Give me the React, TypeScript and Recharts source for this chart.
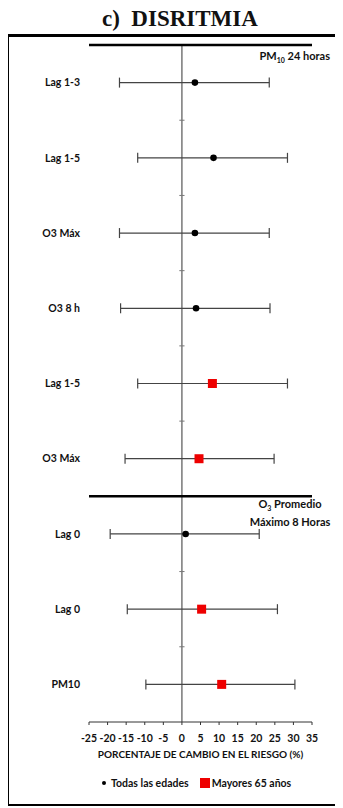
import React from "react";
import { ScatterChart, Scatter, XAxis, YAxis, ErrorBar, ReferenceLine } from "recharts";

const rowLabels = ["Lag 1-3", "Lag 1-5", "O3 Máx", "O3 8 h", "Lag 1-5", "O3 Máx", "Lag 0", "Lag 0", "PM10"];
const rowGroups = ["todas", "todas", "todas", "todas", "mayores", "mayores", "todas", "mayores", "mayores"];
const estimates = [3.5, 8.5, 3.5, 3.8, 8.2, 4.6, 1.0, 5.3, 10.7];
const lowerCI = [-16.8, -11.9, -16.8, -16.5, -11.9, -15.3, -19.3, -14.7, -9.7];
const upperCI = [23.5, 28.4, 23.5, 23.7, 28.4, 24.8, 20.8, 25.7, 30.4];
const xTicks = [-25, -20, -15, -10, -5, 0, 5, 10, 15, 20, 25, 30, 35];
const rowTicks = [1, 2, 3, 4, 5, 6, 7, 8, 9];
const midTicks = [1.5, 2.5, 3.5, 4.5, 5.5, 7.5, 8.5];
const sectionBreaks = [0.5, 6.5];

const allRows = rowLabels.map((label, i) => ({
  row: i + 1,
  label,
  group: rowGroups[i],
  value: estimates[i],
  err: [estimates[i] - lowerCI[i], upperCI[i] - estimates[i]],
}));
const todasRows = allRows.filter((r) => r.group === "todas");
const mayoresRows = allRows.filter((r) => r.group === "mayores");

const SANS = "Lato, 'Open Sans', sans-serif";

const Dot = (props: any) => {
  const { cx, cy } = props;
  if (cx == null || cy == null) return <g />;
  return <circle cx={cx} cy={cy} r={3.3} fill="#000" />;
};
const Square = (props: any) => {
  const { cx, cy } = props;
  if (cx == null || cy == null) return <g />;
  return <rect x={cx - 4.5} y={cy - 4.5} width={9} height={9} fill="#ee0000" />;
};
const Empty = () => <g />;

export default function App() {
  return (
    <div style={{ position: "relative", marginLeft: -8, marginTop: -8, width: 343, height: 808, background: "#fff", overflow: "hidden" }}>
      <div
        style={{
          position: "absolute",
          left: 102,
          top: 5,
          fontFamily: "'Liberation Serif', 'Times New Roman', serif",
          fontWeight: "bold",
          fontSize: 23,
          lineHeight: "28px",
          color: "#111",
          whiteSpace: "pre",
        }}
      >
        c)  DISRITMIA
      </div>
      <div
        style={{
          position: "absolute",
          left: 6,
          top: 34,
          width: 336,
          height: 772,
          borderLeft: "3px solid #000",
          borderTop: "3px solid #000",
          borderRight: "2px solid #000",
          borderBottom: "2px solid #000",
          boxSizing: "border-box",
        }}
      />
      <div style={{ position: "absolute", left: 0, top: 0 }}>
        <ScatterChart width={343} height={808} margin={{ top: 45, right: 31, bottom: 0, left: 0 }}>
          <XAxis
            type="number"
            dataKey="value"
            domain={[-25, 35]}
            ticks={xTicks}
            interval={0}
            allowDataOverflow
            height={86}
            stroke="#333"
            tickSize={3}
            tickMargin={10}
            tick={{ fontSize: 10.5, fontWeight: "bold", fill: "#111", fontFamily: SANS }}
            label={{
              value: "PORCENTAJE DE CAMBIO EN EL RIESGO  (%)",
              position: "insideBottom",
              offset: 50,
              style: { fontSize: 10, fontWeight: "bold", fill: "#111", fontFamily: SANS },
            }}
          />
          <YAxis
            type="number"
            dataKey="row"
            domain={[0.5, 9.5]}
            reversed
            ticks={rowTicks}
            interval={0}
            width={89}
            axisLine={false}
            tickLine={false}
            tickSize={0}
            tickMargin={9}
            tickFormatter={(v: number) => rowLabels[v - 1] ?? ""}
            tick={{ fontSize: 10.5, fontWeight: "bold", fill: "#111", fontFamily: SANS }}
          />
          <ReferenceLine x={0} stroke="#555" strokeWidth={1.2} />
          {midTicks.map((t) => (
            <ReferenceLine
              key={t}
              segment={[
                { x: -0.7, y: t },
                { x: 0.7, y: t },
              ]}
              stroke="#777"
              strokeWidth={1}
            />
          ))}
          {sectionBreaks.map((b) => (
            <ReferenceLine key={b} y={b} stroke="#000" strokeWidth={2.5} />
          ))}
          <Scatter data={allRows} shape={Empty} isAnimationActive={false}>
            <ErrorBar dataKey="err" direction="x" width={5} stroke="#444" strokeWidth={1.2} isAnimationActive={false} />
          </Scatter>
          <Scatter data={todasRows} shape={Dot} isAnimationActive={false} />
          <Scatter data={mayoresRows} shape={Square} isAnimationActive={false} />
        </ScatterChart>
      </div>
      <div
        style={{
          position: "absolute",
          right: 13,
          top: 49,
          fontFamily: SANS,
          fontWeight: "bold",
          fontSize: 11,
          color: "#111",
        }}
      >
        PM<sub style={{ fontSize: 7 }}>10</sub> 24 horas
      </div>
      <div
        style={{
          position: "absolute",
          left: 240,
          width: 100,
          top: 497,
          fontFamily: SANS,
          fontWeight: "bold",
          fontSize: 11,
          lineHeight: "14px",
          color: "#111",
          textAlign: "center",
        }}
      >
        <div>
          O<sub style={{ fontSize: 7 }}>3</sub> Promedio
        </div>
        <div>Máximo 8 Horas</div>
      </div>
      <div
        style={{
          position: "absolute",
          left: 102,
          top: 777,
          fontFamily: SANS,
          fontWeight: "bold",
          fontSize: 10.5,
          color: "#111",
          display: "flex",
          alignItems: "center",
          whiteSpace: "nowrap",
        }}
      >
        <span style={{ display: "inline-block", width: 4, height: 4, borderRadius: 2, background: "#000", marginRight: 5 }} />
        <span>Todas las edades</span>
        <span style={{ display: "inline-block", width: 10, height: 10, background: "#ee0000", marginLeft: 11, marginRight: 2 }} />
        <span>Mayores 65 años</span>
      </div>
    </div>
  );
}
